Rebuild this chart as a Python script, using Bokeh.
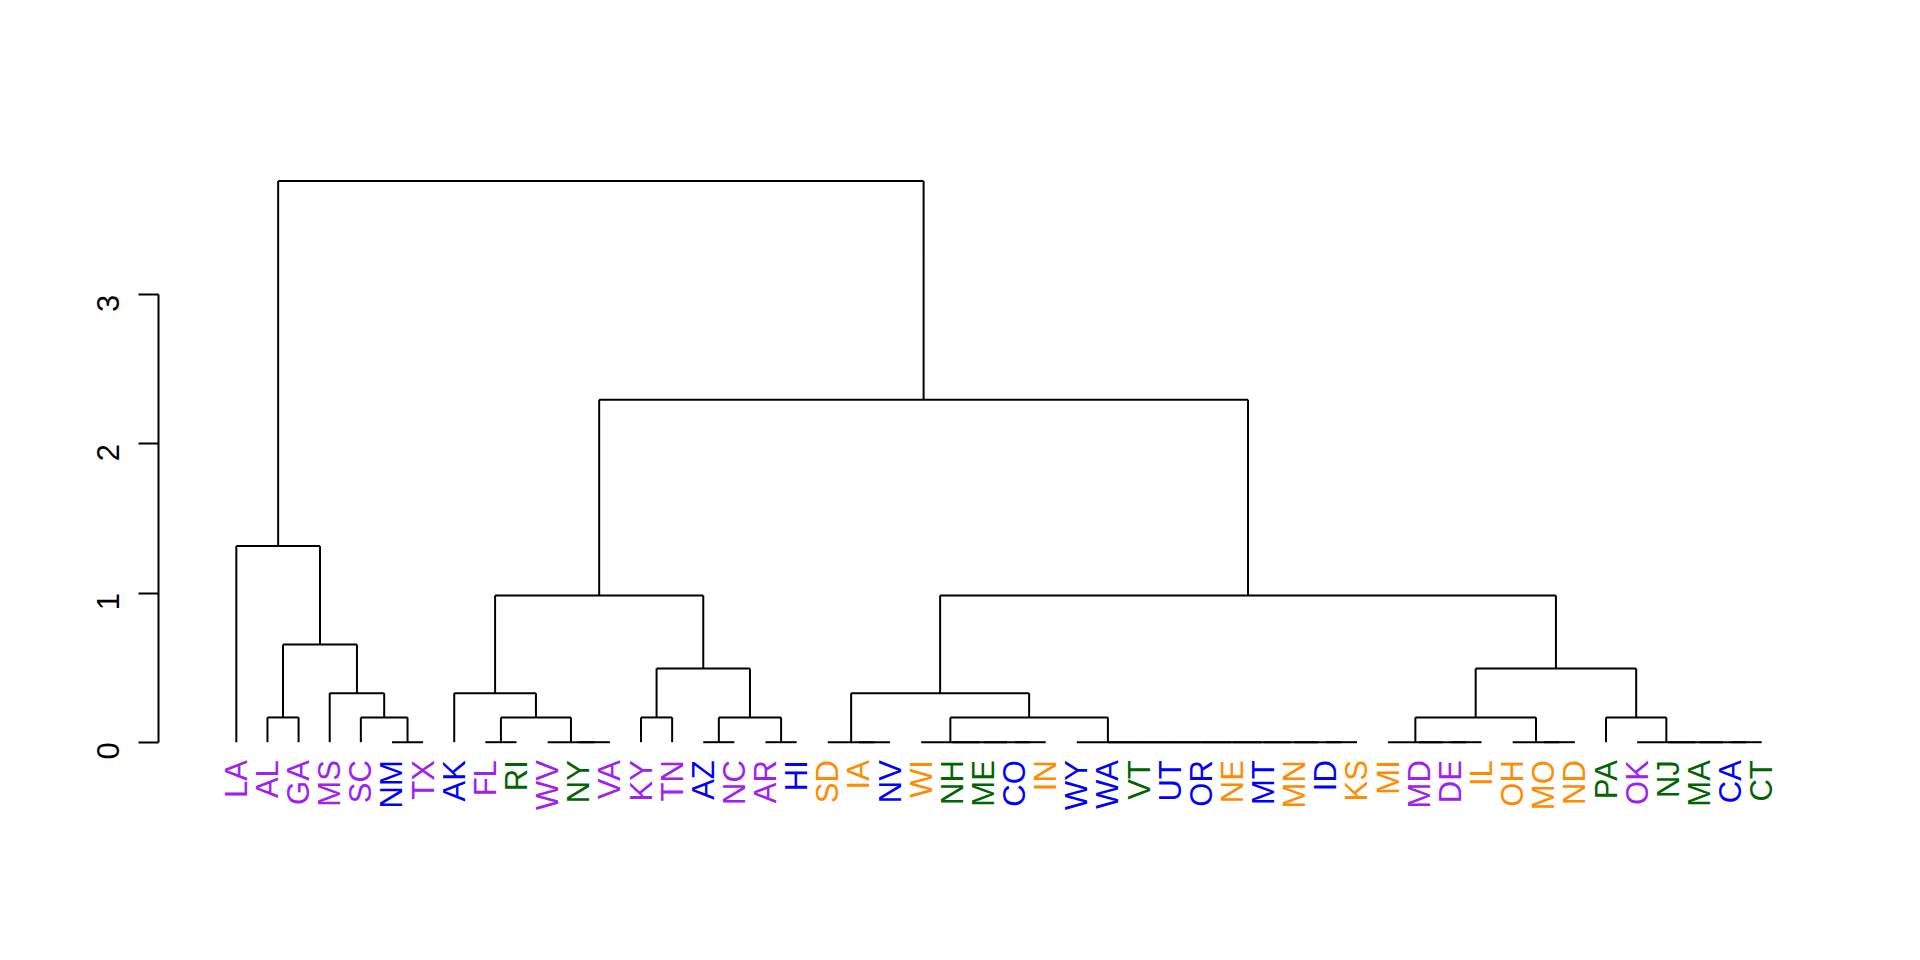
import math
from bokeh.plotting import figure
from bokeh.models import FixedTicker, ColumnDataSource, Range1d
from bokeh.core.properties import value
from bokeh.embed import file_html
from bokeh.resources import INLINE

# Leaf order (left to right) and census region of each state
states = ["LA", "AL", "GA", "MS", "SC", "NM", "TX", "AK", "FL", "RI", "WV", "NY", "VA",
          "KY", "TN", "AZ", "NC", "AR", "HI", "SD", "IA", "NV", "WI", "NH", "ME", "CO",
          "IN", "WY", "WA", "VT", "UT", "OR", "NE", "MT", "MN", "ID", "KS", "MI", "MD",
          "DE", "IL", "OH", "MO", "ND", "PA", "OK", "NJ", "MA", "CA", "CT"]
regions = ["South", "South", "South", "South", "South", "West", "South", "West", "South",
           "Northeast", "South", "Northeast", "South", "South", "South", "West", "South",
           "South", "West", "Midwest", "Midwest", "West", "Midwest", "Northeast", "Northeast",
           "West", "Midwest", "West", "West", "Northeast", "West", "West", "Midwest", "West",
           "Midwest", "West", "Midwest", "Midwest", "South", "South", "Midwest", "Midwest",
           "Midwest", "Midwest", "Northeast", "South", "Northeast", "Northeast", "West",
           "Northeast"]

# hclust-style merge table: negative = leaf (1-based position), positive = earlier merge row
merge_left = [-6, -5, -4, -2, 4, -1,
              -9, -12, -11, 7, -8,
              -14, -16, -18, 13, 12, 11,
              -21, -20,
              -26, -25, -24, -23,
              -36, -35, -34, -33, -32, -31, -30, -29, -28,
              23, 19,
              -40, -39, -38,
              -43, -42,
              37,
              -49, -48, -47, -46,
              -45,
              40, 34, 17, 6]
merge_right = [-7, 1, 2, -3, 3, 5,
               -10, -13, 8, 9, 10,
               -15, -17, -19, 14, 15, 16,
               -22, 18,
               -27, 20, 21, 22,
               -37, 24, 25, 26, 27, 28, 29, 30, 31,
               32, 33,
               -41, 35, 36,
               -44, 38,
               39,
               -50, 41, 42, 43,
               44,
               45, 46, 47, 48]
merge_height = [0, 0.166, 0.329, 0.166, 0.655, 1.315,
                0, 0, 0, 0.166, 0.329,
                0.166, 0, 0, 0.166, 0.494, 0.984,
                0, 0,
                0, 0, 0, 0,
                0, 0, 0, 0, 0, 0, 0, 0, 0,
                0.166, 0.329,
                0, 0, 0,
                0, 0,
                0.166,
                0, 0, 0, 0,
                0.166,
                0.494, 0.984, 2.297, 3.764]
y_ticks = [0, 1, 2, 3]

region_colors = {"South": "#A020F0", "West": "#0000FF",
                 "Northeast": "#006400", "Midwest": "#FF8C00"}

n = len(states)
node_x = {}
node_h = {}


def node(k):
    if k < 0:
        return float(-k), 0.0
    return node_x[k], node_h[k]


x0, y0, x1, y1 = [], [], [], []
for i, (a, b, h) in enumerate(zip(merge_left, merge_right, merge_height), start=1):
    xa, ha = node(a)
    xb, hb = node(b)
    # left vertical, horizontal, right vertical
    if h > ha:
        x0.append(xa); y0.append(ha); x1.append(xa); y1.append(h)
    x0.append(xa); y0.append(h); x1.append(xb); y1.append(h)
    if h > hb:
        x0.append(xb); y0.append(hb); x1.append(xb); y1.append(h)
    node_x[i] = (xa + xb) / 2.0
    node_h[i] = h

top = max(merge_height)
pad = 0.04 * top

p = figure(width=1920, height=960, output_backend="svg", toolbar_location=None,
           x_range=Range1d(-1.5, n + 2.5), y_range=Range1d(-0.7934, top + pad),
           min_border_left=158, min_border_right=81, min_border_top=158,
           min_border_bottom=100)
p.outline_line_color = None
p.grid.visible = False
p.xaxis.visible = False
p.background_fill_color = "white"
p.border_fill_color = "white"

seg = ColumnDataSource(dict(x0=x0, y0=y0, x1=x1, y1=y1))
p.segment(x0="x0", y0="y0", x1="x1", y1="y1", source=seg,
          line_color="black", line_width=2)

lab = ColumnDataSource(dict(x=list(range(1, n + 1)), y=[0] * n, text=states,
                            color=[region_colors[r] for r in regions]))
p.text(x="x", y="y", text="text", source=lab, angle=math.pi / 2,
       text_align="right", text_baseline="middle", text_color="color",
       text_font=value("Liberation Sans"), text_font_size="31px", y_offset=18)

ya = p.yaxis[0]
ya.ticker = FixedTicker(ticks=y_ticks)
ya.bounds = (0, 3)
ya.major_tick_out = 20
ya.major_tick_in = 0
ya.minor_tick_out = 0
ya.minor_tick_in = 0
ya.axis_line_width = 2
ya.major_tick_line_width = 2
ya.major_label_orientation = math.pi / 2
ya.major_label_standoff = 30
ya.major_label_text_font = "Liberation Sans"
ya.major_label_text_font_size = "31px"
ya.major_label_text_color = "black"

open("out.html", "w").write(file_html(p, INLINE))
